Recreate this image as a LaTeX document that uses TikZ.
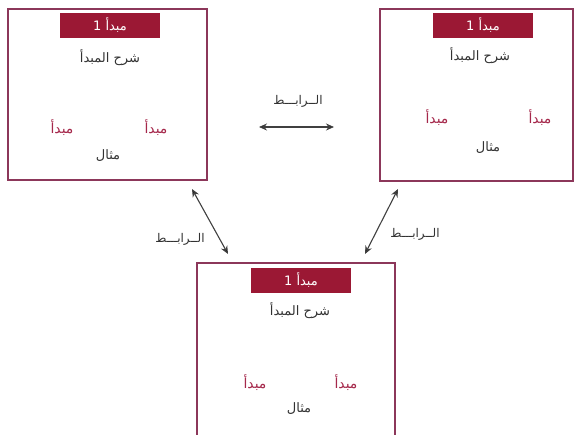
\documentclass[tikz,border=0pt]{standalone}
\usepackage{fontspec}
\usetikzlibrary{arrows.meta}
\newfontfamily\arabicfont[Script=Arabic]{DejaVu Sans}
\TeXXeTstate=1
\definecolor{barred}{RGB}{155,24,52}
\definecolor{boxline}{RGB}{140,55,90}
\definecolor{redtext}{RGB}{165,40,75}
\definecolor{darktext}{RGB}{50,50,50}
\tikzset{
  panelline/.style={draw=boxline, line width=1.2pt},
  titlebar/.style={fill=barred, text=white, minimum width=100pt, minimum height=25pt, inner sep=0pt, font=\arabicfont\fontsize{13}{14}\selectfont},
  desc/.style={text=darktext, inner sep=1pt, font=\arabicfont\fontsize{13}{14}\selectfont},
  principle/.style={text=redtext, inner sep=1pt, font=\arabicfont\fontsize{14}{15}\selectfont},
  linklabel/.style={text=darktext, inner sep=1pt, font=\arabicfont\fontsize{12}{14}\selectfont},
  link/.style={{Stealth[length=8pt,width=7pt,fill=black]}-{Stealth[length=8pt,width=7pt,fill=black]}, line width=1.1pt, draw=black!75}
}
\begin{document}
\begin{tikzpicture}[x=1pt,y=-1pt]
\useasboundingbox (0,0) rectangle (575,434);
\clip (0,0) rectangle (575,434);
% panels
\draw[panelline] (8,9) rectangle (207,180);
\draw[panelline] (380,9) rectangle (573,181);
\draw[panelline] (197,263) rectangle (395,445);
% panel 1
\node[titlebar] (t1) at (110,25) {\beginR مبدأ 1\endR};
\node[desc] (d1) at (110,58) {\beginR شرح المبدأ\endR};
\node[principle] (p1a) at (62,128) {\beginR مبدأ\endR};
\node[principle] (p1b) at (156,128) {\beginR مبدأ\endR};
\node[desc] (e1) at (108,156) {\beginR مثال\endR};
% panel 2
\node[titlebar] (t2) at (483,25) {\beginR مبدأ 1\endR};
\node[desc] (d2) at (480,56) {\beginR شرح المبدأ\endR};
\node[principle] (p2a) at (437,118) {\beginR مبدأ\endR};
\node[principle] (p2b) at (540,118) {\beginR مبدأ\endR};
\node[desc] (e2) at (488,148) {\beginR مثال\endR};
% panel 3
\node[titlebar] (t3) at (301,280) {\beginR مبدأ 1\endR};
\node[desc] (d3) at (300,311) {\beginR شرح المبدأ\endR};
\node[principle] (p3a) at (255,383) {\beginR مبدأ\endR};
\node[principle] (p3b) at (346,383) {\beginR مبدأ\endR};
\node[desc] (e3) at (299,409) {\beginR مثال\endR};
% links
\coordinate (h1) at (259,127);
\coordinate (h2) at (334,127);
\coordinate (l1) at (192,189);
\coordinate (l2) at (228,254);
\coordinate (r1) at (398,189);
\coordinate (r2) at (365,254);
\draw[link] (h1) -- (h2);
\draw[link] (l1) -- (l2);
\draw[link] (r1) -- (r2);
\node[linklabel] (lb1) at (298,101) {\beginR الــرابـــط\endR};
\node[linklabel] (lb2) at (180,239) {\beginR الــرابـــط\endR};
\node[linklabel] (lb3) at (415,234) {\beginR الــرابـــط\endR};
\end{tikzpicture}
\end{document}
